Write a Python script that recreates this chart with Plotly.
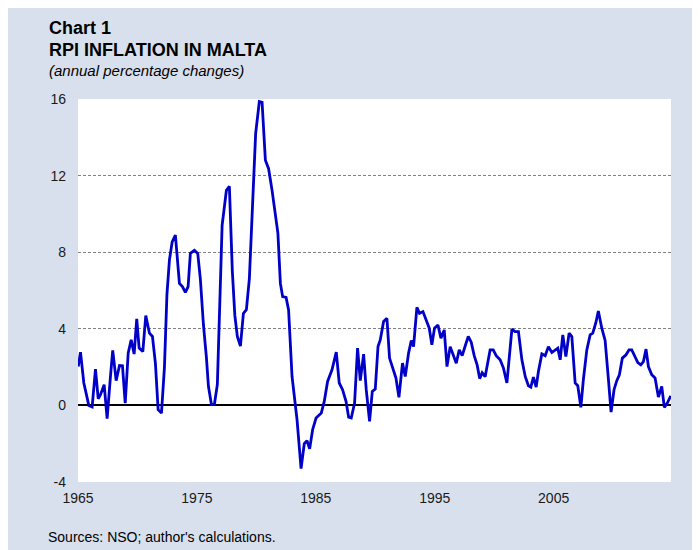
import plotly.graph_objects as go

years = [
    1965.02, 1965.21, 1965.49, 1965.91, 1966.19, 1966.47, 1966.70, 1966.89, 1967.20, 1967.45,
    1967.73, 1967.92, 1968.21, 1968.49, 1968.74, 1968.97, 1969.22, 1969.47, 1969.72, 1969.94,
    1970.14, 1970.45, 1970.70, 1971.01, 1971.26, 1971.51, 1971.74, 1972.02, 1972.27, 1972.48,
    1972.69, 1972.92, 1973.19, 1973.53, 1973.78, 1974.03, 1974.26, 1974.45, 1974.79, 1975.07,
    1975.29, 1975.55, 1975.80, 1975.97, 1976.22, 1976.47, 1976.72, 1977.12, 1977.48, 1977.73,
    1977.98, 1978.19, 1978.40, 1978.66, 1978.91, 1979.16, 1979.41, 1979.58, 1979.94, 1980.25,
    1980.48, 1980.76, 1981.03, 1981.32, 1981.60, 1981.81, 1982.02, 1982.21, 1982.50, 1982.71,
    1983.00, 1983.42, 1983.76, 1984.03, 1984.26, 1984.48, 1984.73, 1985.02, 1985.46, 1985.71,
    1985.99, 1986.36, 1986.72, 1986.97, 1987.25, 1987.54, 1987.76, 1987.98, 1988.26, 1988.51,
    1988.74, 1989.02, 1989.24, 1989.52, 1989.75, 1990.00, 1990.23, 1990.42, 1990.70, 1990.98,
    1991.20, 1991.49, 1991.74, 1991.99, 1992.29, 1992.52, 1992.80, 1993.03, 1993.22, 1993.50,
    1993.72, 1994.01, 1994.26, 1994.54, 1994.76, 1994.98, 1995.27, 1995.52, 1995.80, 1996.03,
    1996.30, 1996.55, 1996.81, 1997.06, 1997.31, 1997.56, 1997.82, 1998.07, 1998.32, 1998.57,
    1998.78, 1998.99, 1999.24, 1999.45, 1999.66, 1999.92, 2000.17, 2000.50, 2000.78, 2001.07,
    2001.49, 2001.76, 2002.04, 2002.33, 2002.61, 2002.88, 2003.08, 2003.30, 2003.53, 2003.72,
    2004.01, 2004.29, 2004.56, 2004.85, 2005.13, 2005.35, 2005.55, 2005.77, 2006.03, 2006.30,
    2006.53, 2006.81, 2007.03, 2007.29, 2007.50, 2007.79, 2008.07, 2008.29, 2008.55, 2008.76,
    2009.05, 2009.33, 2009.61, 2009.83, 2010.08, 2010.31, 2010.53, 2010.78, 2011.09, 2011.34,
    2011.57, 2011.85, 2012.08, 2012.33, 2012.55, 2012.77, 2012.97, 2013.25, 2013.53, 2013.81,
    2014.09, 2014.31, 2014.56, 2014.85,
]

# RPI inflation, annual percentage changes
inflation = [
    2.03, 2.78, 1.17, 0.00, -0.08, 1.90, 0.35, 0.56, 1.08, -0.69,
    1.51, 2.87, 1.29, 2.08, 2.07, 0.12, 2.73, 3.42, 2.68, 4.52,
    2.99, 2.81, 4.69, 3.77, 3.60, 2.20, -0.22, -0.40, 2.00, 5.80,
    7.60, 8.54, 8.89, 6.37, 6.20, 5.90, 6.20, 7.94, 8.10, 7.94,
    6.60, 4.20, 2.50, 1.00, 0.05, 0.05, 1.10, 9.40, 11.23, 11.44,
    7.00, 4.70, 3.60, 3.10, 4.80, 5.00, 6.60, 9.30, 14.20, 15.87,
    15.83, 12.80, 12.36, 11.23, 10.10, 9.00, 6.37, 5.68, 5.64, 4.98,
    1.51, -0.74, -3.30, -2.00, -1.84, -2.27, -1.27, -0.66, -0.40, 0.21,
    1.25, 1.86, 2.78, 1.17, 0.82, 0.21, -0.62, -0.66, 0.12, 2.99,
    1.29, 2.68, 0.82, -0.83, 0.73, 0.85, 3.07, 3.42, 4.38, 4.55,
    2.47, 1.86, 1.43, 0.42, 2.21, 1.51, 2.73, 3.39, 3.07, 5.12,
    4.81, 4.90, 4.46, 4.03, 3.16, 4.03, 4.20, 3.51, 3.94, 2.03,
    3.07, 2.60, 2.20, 2.90, 2.60, 3.10, 3.60, 3.30, 2.60, 2.10,
    1.40, 1.70, 1.50, 2.20, 2.90, 2.90, 2.60, 2.38, 1.95, 1.17,
    3.98, 3.85, 3.85, 2.38, 1.51, 1.03, 0.96, 1.48, 0.96, 1.77,
    2.69, 2.59, 3.07, 2.76, 2.90, 2.99, 2.38, 3.68, 2.55, 3.77,
    3.59, 1.17, 1.03, -0.10, 1.34, 2.90, 3.68, 3.77, 4.32, 4.93,
    4.03, 3.39, 1.34, -0.35, 0.82, 1.29, 1.60, 2.47, 2.64, 2.90,
    2.90, 2.55, 2.24, 2.12, 2.29, 2.94, 2.03, 1.60, 1.43, 0.44,
    0.99, -0.10, 0.12, 0.50,
]

x_ticks = [1965, 1975, 1985, 1995, 2005]
x_tick_labels = ["1965", "1975", "1985", "1995", "2005"]
y_ticks = [-4, 0, 4, 8, 12, 16]
y_tick_labels = ["-4", "0", "4", "8", "12", "16"]

title_line1 = "Chart 1"
title_line2 = "RPI INFLATION IN MALTA"
subtitle = "(annual percentage changes)"
source = "Sources: NSO; author's calculations."

FONT = "Arial, 'Liberation Sans', sans-serif"
PANEL = "#d9e0ed"

# the page body adds an 8px offset; figure is sized to fill the rest of the window
OFF = 8
FIG_W, FIG_H = 700 - OFF, 550 - OFF

fig = go.Figure()
fig.add_trace(go.Scatter(
    x=years, y=inflation, mode="lines",
    line=dict(color="#0000c8", width=2.8),
    hoverinfo="skip", showlegend=False,
))

# plot area in window pixels: left 77.5, right 671, top 98.5, bottom 482
L, R, T, B = 77.5 - OFF, 671.0 - OFF, 98.5 - OFF, 482.0 - OFF
W, H = R - L, B - T


def px(xp):
    return (xp - OFF - L) / W


def py(yp):
    return (B - (yp - OFF)) / H


annotations = [
    dict(text="<b>" + title_line1 + "</b>", x=px(47), y=py(27.5), font=dict(size=18, color="#000")),
    dict(text="<b>" + title_line2 + "</b>", x=px(47), y=py(49), font=dict(size=18, color="#000")),
    dict(text="<i>" + subtitle + "</i>", x=px(47), y=py(70), font=dict(size=15, color="#000")),
    dict(text=source, x=px(46), y=py(537.5), font=dict(size=14, color="#000")),
]
for a in annotations:
    a.update(xref="paper", yref="paper", xanchor="left", yanchor="middle",
             showarrow=False, borderpad=0)

fig.update_layout(
    width=FIG_W, height=FIG_H,
    margin=dict(l=L, r=FIG_W - R, t=T, b=FIG_H - B, pad=0),
    paper_bgcolor=PANEL, plot_bgcolor="white",
    font=dict(family=FONT, size=14, color="#1a1a1a"),
    annotations=annotations,
    xaxis=dict(
        range=[1965, 2014.87], tickvals=x_ticks, ticktext=x_tick_labels,
        showgrid=False, zeroline=False, showline=False, ticks="",
        tickfont=dict(size=14), ticklabelstandoff=6, fixedrange=True,
        automargin=False,
    ),
    yaxis=dict(
        range=[-4, 16], tickvals=y_ticks, ticktext=y_tick_labels,
        showgrid=True, gridcolor="#808080", gridwidth=1, griddash="3px,2px",
        zeroline=True, zerolinecolor="#000000", zerolinewidth=2,
        showline=False, ticks="", tickfont=dict(size=14), ticklabelstandoff=11,
        fixedrange=True, automargin=False,
    ),
)

fig.write_html("out.html")
